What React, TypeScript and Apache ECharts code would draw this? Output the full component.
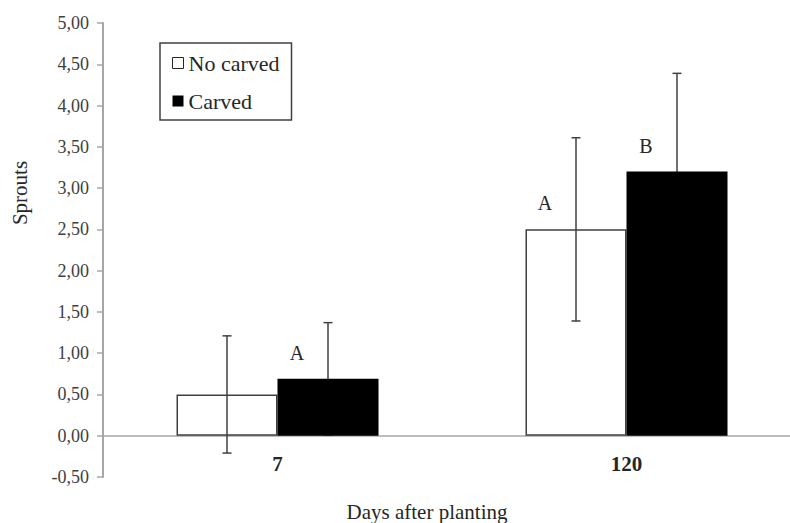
import React, { useEffect, useRef } from "react";
import * as echarts from "echarts";

const categories = ["7", "120"];
const noCarved = [0.5, 2.5];
const carved = [0.69, 3.2];
const noCarvedErr = [0.71, 1.11];
const carvedErr = [0.68, 1.19];
const noCarvedLetters = ["", "A"];
const carvedLetters = ["A", "B"];
const yMin = -0.5;
const yMax = 5;
const yStep = 0.5;

const FONT = "'Liberation Serif', 'Times New Roman', serif";
const BAR_W = 101;
const ERR_COLOR = "#404040";

function errorSeries(name: string, means: number[], errs: number[], offset: number, z: number) {
  return {
    type: "custom",
    name,
    z,
    silent: true,
    data: categories.map((_, i) => [i, means[i], errs[i]]),
    renderItem: (params: any, api: any) => {
      const cat = api.value(0);
      const mean = api.value(1);
      const err = api.value(2);
      const c = api.coord([cat, mean]);
      const x = c[0] + offset;
      const yTop = api.coord([cat, mean + err])[1];
      const yBot = api.coord([cat, mean - err])[1];
      const st = { stroke: ERR_COLOR, lineWidth: 1.5 };
      const cap = 4.5;
      return {
        type: "group",
        children: [
          { type: "line", shape: { x1: x, y1: yTop, x2: x, y2: yBot }, style: st },
          { type: "line", shape: { x1: x - cap, y1: yTop, x2: x + cap, y2: yTop }, style: st },
          { type: "line", shape: { x1: x - cap, y1: yBot, x2: x + cap, y2: yBot }, style: st },
        ],
      };
    },
  };
}

export default function App() {
  const ref = useRef<HTMLDivElement>(null);
  useEffect(() => {
    document.body.style.margin = "0";
    const chart = echarts.init(ref.current!, null, { renderer: "svg" });
    const letterLabel = (letters: string[]) => ({
      show: true,
      position: "top",
      offset: [-31, -11],
      formatter: (p: any) => letters[p.dataIndex],
      fontFamily: FONT,
      fontSize: 20,
      color: "#262626",
    });
    chart.setOption({
      animation: false,
      backgroundColor: "#ffffff",
      grid: {
        left: 103,
        top: 23,
        width: 698,
        height: 454,
        containLabel: false,
        outerBoundsMode: "none",
      },
      legend: {
        orient: "vertical",
        left: 160,
        top: 43,
        padding: [9, 12, 8, 12],
        itemGap: 16,
        itemWidth: 11,
        itemHeight: 11,
        icon: "rect",
        borderColor: "#404040",
        borderWidth: 1.5,
        selectedMode: false,
        textStyle: { fontFamily: FONT, fontSize: 22, color: "#262626" },
        data: [
          { name: "No carved", itemStyle: { color: "#ffffff", borderColor: "#262626", borderWidth: 1 } },
          { name: "Carved", itemStyle: { color: "#000000" } },
        ],
      },
      xAxis: {
        type: "category",
        data: categories,
        axisLine: { show: true, onZero: true, lineStyle: { color: "#a6a6a6", width: 1.5 } },
        axisTick: { show: false },
        axisLabel: { fontFamily: FONT, fontSize: 21, fontWeight: "bold", color: "#262626", margin: -24 },
        splitLine: { show: false },
      },
      yAxis: {
        type: "value",
        min: yMin,
        max: yMax,
        interval: yStep,
        axisLine: { show: true, lineStyle: { color: "#a6a6a6", width: 2 } },
        axisTick: { show: true, length: 6, lineStyle: { color: "#a6a6a6", width: 1.5 } },
        axisLabel: {
          fontFamily: FONT,
          fontSize: 18,
          color: "#404040",
          margin: 14,
          formatter: (v: number) => v.toFixed(2).replace(".", ","),
        },
        splitLine: { show: false },
      },
      series: [
        {
          type: "bar",
          name: "No carved",
          data: noCarved,
          barWidth: BAR_W,
          barGap: "0%",
          z: 2,
          itemStyle: { color: "#ffffff", borderColor: "#404040", borderWidth: 1.5 },
          label: letterLabel(noCarvedLetters),
        },
        {
          type: "bar",
          name: "Carved",
          data: carved,
          barWidth: BAR_W,
          barGap: "0%",
          z: 3,
          itemStyle: { color: "#000000" },
          label: letterLabel(carvedLetters),
        },
        errorSeries("No carved err", noCarved, noCarvedErr, -BAR_W / 2, 5),
        errorSeries("Carved err", carved, carvedErr, BAR_W / 2, 1),
      ],
      graphic: [
        {
          type: "text",
          x: 20,
          y: 193,
          rotation: Math.PI / 2,
          style: {
            text: "Sprouts",
            font: `21px ${FONT}`,
            fill: "#262626",
            textAlign: "center",
            align: "center",
            textVerticalAlign: "middle",
            verticalAlign: "middle",
          },
        },
        {
          type: "text",
          x: 427,
          y: 512,
          style: {
            text: "Days after planting",
            font: `21px ${FONT}`,
            fill: "#262626",
            textAlign: "center",
            align: "center",
            textVerticalAlign: "middle",
            verticalAlign: "middle",
          },
        },
      ],
    });
    return () => chart.dispose();
  }, []);
  return (
    <div
      ref={ref}
      style={{ position: "absolute", left: 0, top: 0, width: 790, height: 523, background: "#fff" }}
    />
  );
}
